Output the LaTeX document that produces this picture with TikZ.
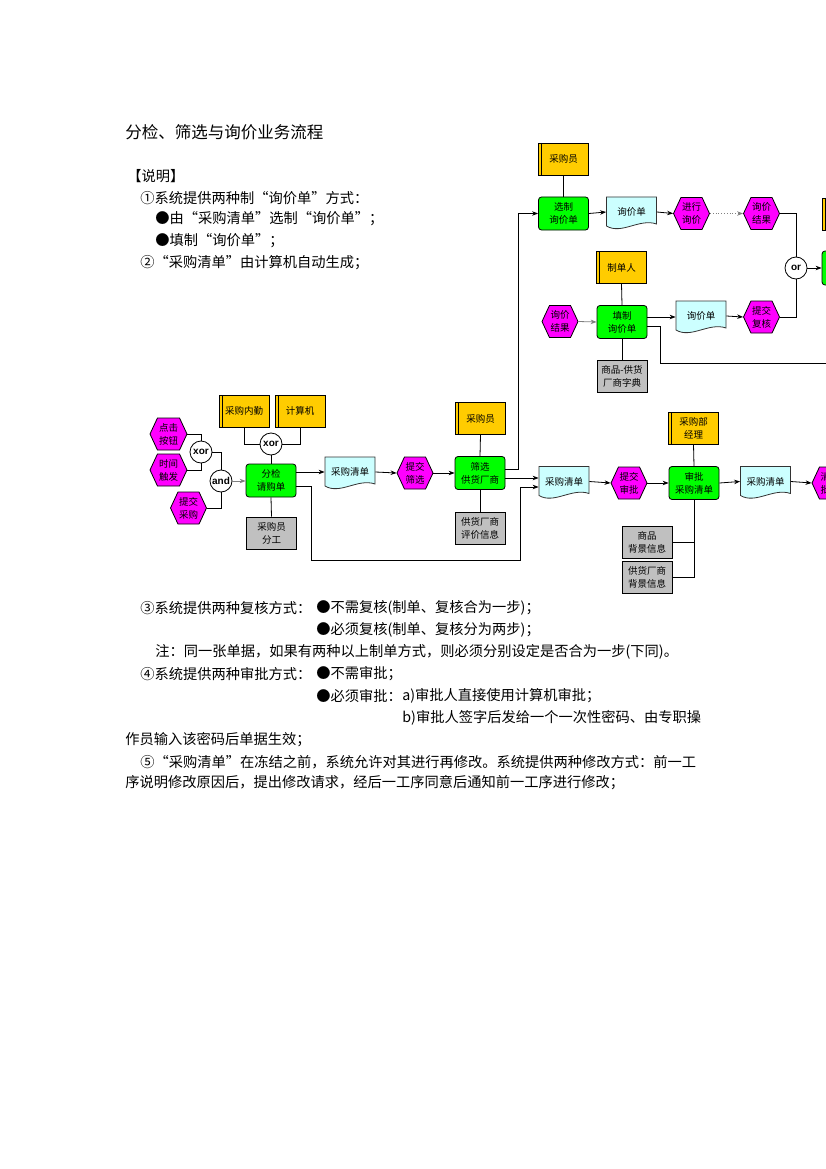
\documentclass[tikz,border=0pt]{standalone}
\usepackage{fontspec}
\setmainfont{Noto Sans CJK SC}
\newfontfamily\latinsf{Liberation Sans}
\usetikzlibrary{shapes.symbols,arrows.meta}
\definecolor{orgyel}{HTML}{FFCC00}
\definecolor{fngreen}{HTML}{00FF00}
\definecolor{evmag}{HTML}{FF00FF}
\definecolor{docfill}{HTML}{CCFFFF}
\definecolor{infgray}{HTML}{C0C0C0}
\def\titlefont{\fontsize{16.5}{20}\selectfont}
\def\bodyfont{\fontsize{14.25}{18}\selectfont}
\def\diagfont{\fontsize{9.5}{13}\selectfont}
% full width quotes
\def\oq{\makebox[1em][r]{“}}
\def\cq{\makebox[1em][l]{”}}
\tikzset{
	txt/.style={anchor=west,inner sep=0pt,font=\bodyfont},
	fn/.style={draw,rounded corners=3pt,fill=fngreen,minimum width=50pt,minimum height=33pt,inner sep=1pt,align=center,font=\diagfont},
	ev/.style={signal,signal to=east and west,signal pointer angle=130,draw,fill=evmag,minimum width=36pt,minimum height=32pt,inner sep=0pt,align=center,font=\diagfont},
	org/.style={draw,fill=orgyel,minimum width=50pt,minimum height=32pt,inner sep=1pt,align=center,font=\diagfont,
		path picture={\draw ([xshift=3pt]path picture bounding box.north west) -- ([xshift=3pt]path picture bounding box.south west);}},
	info/.style={draw,fill=infgray,minimum width=50pt,minimum height=32pt,inner sep=1pt,align=center,font=\diagfont},
	docnode/.style={minimum width=50pt,minimum height=32pt,inner sep=1pt,align=center,font=\diagfont},
	docline/.style={draw=black!80,fill=docfill},
	op/.style={circle,draw,fill=white,minimum size=22pt,inner sep=0pt,font=\latinsf\bfseries\fontsize{10}{12}\selectfont},
	arr/.style={-{Stealth[length=6pt,width=4.5pt]}}
}
% document symbol: name, x, y, text
\newcommand\docu[4]{%
	\filldraw[docline] (#2-25,#3-16) -- (#2+25,#3-16) -- (#2+25,#3+11) .. controls (#2+8,#3+5) and (#2-10,#3+22) .. (#2-25,#3+13) -- cycle;
	\node[docnode] (#1) at (#2,#3-1) {#4};
}

\begin{document}
\begin{tikzpicture}[x=1pt,y=-1pt,line width=0.8pt]
	\useasboundingbox (0,0) rectangle (826,1169);
	\clip (0,0) rectangle (826,1169);
	
	%title and notes
	\node[txt,font=\titlefont] (title) at (125,132) {分检、筛选与询价业务流程};
	\node[txt] (n0) at (127,176) {【说明】};
	\node[txt] (n1) at (140,198) {①系统提供两种制\oq 询价单\cq 方式：};
	\node[txt] (n1a) at (155,219) {●由\oq 采购清单\cq 选制\oq 询价单\cq ；};
	\node[txt] (n1b) at (155,241) {●填制\oq 询价单\cq ；};
	\node[txt] (n2) at (140,263) {②\oq 采购清单\cq 由计算机自动生成；};
	
	%left part
	\node[ev,minimum width=37pt] (djan) at (168.5,434) {点击\\按钮};
	\node[ev,minimum width=37pt] (sjcf) at (168.5,470) {时间\\触发};
	\node[ev] (tjcg) at (188.5,508) {提交\\采购};
	\node[op] (xor1) at (201,452) {xor};
	\node[op] (and1) at (221,481) {and};
	\node[org] (cgnq) at (244,411) {采购内勤};
	\node[org] (jsj) at (300,411) {计算机};
	\node[op] (xor2) at (271,444) {xor};
	\node[fn] (fj) at (271,480.5) {分检\\请购单};
	\node[info] (fg) at (271.5,533) {采购员\\分工};
	\docu{cgqd1}{350}{473}{采购清单}
	\node[ev] (tjsx) at (415,473) {提交\\筛选};
	\node[fn] (sxgh) at (480,473) {筛选\\供货厂商};
	\node[org] (cgy2) at (480.5,418.5) {采购员};
	\node[info] (pjxx) at (480,528) {供货厂商\\评价信息};
	
	\draw (djan.east) -| (xor1.north);
	\draw (sjcf.east) -| (xor1.south);
	\draw (xor1.east) -| (and1.north);
	\draw (tjcg.east) -| (and1.south);
	\draw[arr,gray] (and1.east) -- (fj.west |- and1.east);
	\draw (cgnq.south) |- (xor2.west);
	\draw (jsj.south) |- (xor2.east);
	\draw (xor2.south) -- (fj.north);
	\draw (fj.south) -- (fg.north);
	\draw[arr] (fj.east |- cgqd1.west) -- (cgqd1.west);
	\draw[arr] (cgqd1.east) -- (tjsx.west);
	\draw[arr] (tjsx.east) -- (sxgh.west);
	\draw (cgy2.south) -- (sxgh.north);
	\draw (sxgh.south) -- (pjxx.north);
	
	%top row
	\node[org] (cgy1) at (563.5,159) {采购员};
	\node[fn] (xzxjd) at (563.5,213.5) {选制\\询价单};
	\docu{xjd1}{631.5}{213}{询价单}
	\node[ev] (jxxj) at (691.5,213.5) {进行\\询价};
	\node[ev] (xjjg1) at (761.5,213.5) {询价\\结果};
	\node[op] (or1) at (796,268) {or};
	\node[org] (norg) at (847,214) {};
	\node[fn,minimum height=34pt] (nfn) at (847,268) {};
	
	\draw (cgy1.south) -- (xzxjd.north);
	\draw[arr] (xzxjd.east) -- (xjd1.west);
	\draw[arr] (xjd1.east) -- (jxxj.west);
	\draw[arr,dotted,gray] (jxxj.east) -- (xjjg1.west);
	\draw (xjjg1.east) -| (or1.north);
	\draw[arr] (or1.east) -- (nfn.west);
	
	%fill-in row
	\node[org] (zdr) at (621.5,267.5) {制单人};
	\node[ev] (xjjg2) at (560,321.5) {询价\\结果};
	\node[fn] (tzxjd) at (622,322) {填制\\询价单};
	\docu{xjd2}{701}{317}{询价单}
	\node[ev] (tjfh) at (761.5,317) {提交\\复核};
	\node[info] (spgh) at (622,376) {商品-供货\\厂商字典};
	\coordinate (rand) at (840,363);
	
	\draw (zdr.south) -- (tzxjd.north);
	\draw (tzxjd.south) -- (spgh.north);
	\draw[arr,gray] (xjjg2.east) -- (tzxjd.west);
	\coordinate (t1) at ([yshift=5pt]tzxjd.east);
	\coordinate (t2) at ([yshift=-4pt]tzxjd.east);
	\draw[arr] (t1) -- (t1 -| xjd2.west);
	\draw[arr] (xjd2.east) -- (tjfh.west);
	\draw (tjfh.east) -| (or1.south);
	\draw (t2) -- ++(13,0) |- (rand);
	
	%approval row
	\docu{cgqd2}{564}{482.5}{采购清单}
	\node[ev] (tjsp) at (629,483) {提交\\审批};
	\node[fn] (spqd) at (694,483) {审批\\采购清单};
	\node[org] (cgbjl) at (693.5,428) {采购部\\经理};
	\node[info] (spbj) at (647,542) {商品\\背景信息};
	\node[info] (ghbj) at (647,577.5) {供货厂商\\背景信息};
	\docu{cgqd3}{765.5}{482.5}{采购清单}
	\node[ev] (nx) at (830,483) {清单\\批准};
	
	\coordinate (s1) at ([yshift=4pt]sxgh.east);
	\coordinate (s2) at ([yshift=-5pt]sxgh.east);
	\coordinate (f1) at ([yshift=-6pt]fj.east);
	\coordinate (f2) at ([yshift=-5.5pt]cgqd2.west);
	\draw[arr] (s1) -- ++(13,0) |- (xzxjd.west);
	\draw[arr] (s2) -- (s2 -| cgqd2.west);
	\draw[arr] (f1) -- ++(15,0) |- (520,560) |- (f2);
	\draw[arr] (cgqd2.east) -- (tjsp.west);
	\draw[arr] (tjsp.east) -- (spqd.west);
	\draw (cgbjl.south) -- (spqd.north);
	\draw (spbj.east) -| (spqd.south);
	\draw (ghbj.east) -| (spqd.south);
	\draw[arr] (spqd.east) -- (cgqd3.west);
	\draw[arr] (cgqd3.east) -- (nx.west);
	
	%notes below
	\node[txt] (n3) at (140,608) {③系统提供两种复核方式：};
	\node[txt] (n3a) at (316,608) {●不需复核(制单、复核合为一步)；};
	\node[txt] (n3b) at (316,630) {●必须复核(制单、复核分为两步)；};
	\node[txt] (nz) at (155,652) {注：同一张单据，如果有两种以上制单方式，则必须分别设定是否合为一步(下同)。};
	\node[txt] (n4) at (140,674) {④系统提供两种审批方式：};
	\node[txt] (n4a) at (316,674) {●不需审批；};
	\node[txt] (n4b) at (316,696) {●必须审批：};
	\node[txt] (n4c) at (402,696) {a)审批人直接使用计算机审批；};
	\node[txt] (n4d) at (402,718) {b)审批人签字后发给一个一次性密码、由专职操};
	\node[txt] (n4e) at (125,740) {作员输入该密码后单据生效；};
	\node[txt] (n5) at (140,762) {⑤\oq 采购清单\cq 在冻结之前，系统允许对其进行再修改。系统提供两种修改方式：前一工};
	\node[txt] (n5a) at (125,783) {序说明修改原因后，提出修改请求，经后一工序同意后通知前一工序进行修改；};
\end{tikzpicture}
\end{document}
